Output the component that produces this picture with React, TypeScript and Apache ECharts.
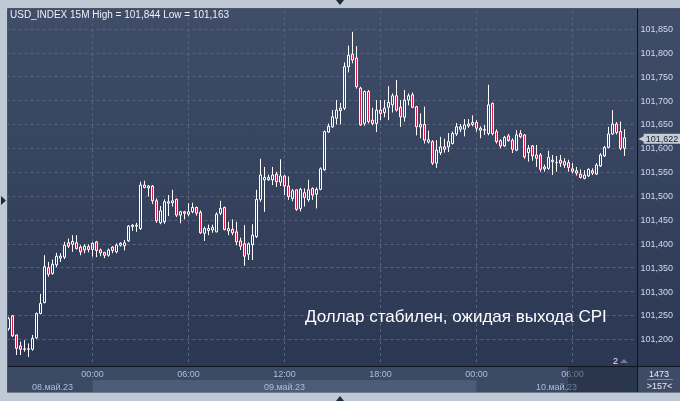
import React, { useEffect, useRef } from 'react';
import * as echarts from 'echarts';

const opens = [
  101.222, 101.249, 101.209, 101.186, 101.179, 101.179, 101.179, 101.203, 101.254, 101.277,
  101.350, 101.338, 101.356, 101.370, 101.372, 101.402, 101.399, 101.402, 101.393, 101.387,
  101.394, 101.388, 101.404, 101.387, 101.382, 101.376, 101.393, 101.383, 101.397, 101.396,
  101.406, 101.436, 101.437, 101.432, 101.523, 101.517, 101.521, 101.490, 101.444, 101.446,
  101.485, 101.486, 101.493, 101.460, 101.467, 101.462, 101.467, 101.476, 101.466, 101.422,
  101.428, 101.429, 101.425, 101.464, 101.476, 101.427, 101.430, 101.425, 101.406, 101.400,
  101.378, 101.398, 101.415, 101.493, 101.534, 101.534, 101.534, 101.546, 101.529, 101.542,
  101.521, 101.495, 101.513, 101.474, 101.507, 101.492, 101.516, 101.504, 101.514, 101.555,
  101.634, 101.645, 101.663, 101.679, 101.684, 101.771, 101.797, 101.789, 101.726, 101.652,
  101.719, 101.659, 101.652, 101.680, 101.675, 101.686, 101.691, 101.710, 101.686, 101.665,
  101.701, 101.712, 101.687, 101.645, 101.650, 101.613, 101.614, 101.569, 101.591, 101.603,
  101.603, 101.610, 101.630, 101.640, 101.640, 101.647, 101.650, 101.654, 101.638, 101.638,
  101.631, 101.694, 101.635, 101.616, 101.605, 101.626, 101.617, 101.596, 101.631, 101.628,
  101.591, 101.605, 101.586, 101.586, 101.557, 101.558, 101.572, 101.570, 101.575, 101.565,
  101.570, 101.557, 101.553, 101.546, 101.537, 101.542, 101.553, 101.546, 101.563, 101.584,
  101.602, 101.630, 101.651, 101.635, 101.600,
];
const closes = [
  101.243, 101.207, 101.181, 101.179, 101.180, 101.180, 101.202, 101.254, 101.275, 101.352,
  101.336, 101.357, 101.374, 101.374, 101.397, 101.395, 101.405, 101.390, 101.383, 101.395,
  101.388, 101.401, 101.386, 101.381, 101.376, 101.387, 101.386, 101.397, 101.401, 101.402,
  101.437, 101.439, 101.439, 101.523, 101.518, 101.521, 101.490, 101.448, 101.469, 101.488,
  101.488, 101.490, 101.460, 101.467, 101.464, 101.467, 101.476, 101.464, 101.423, 101.432,
  101.432, 101.434, 101.462, 101.474, 101.430, 101.432, 101.423, 101.404, 101.395, 101.374,
  101.400, 101.418, 101.493, 101.544, 101.539, 101.539, 101.544, 101.530, 101.542, 101.521,
  101.499, 101.511, 101.472, 101.514, 101.497, 101.513, 101.502, 101.514, 101.557, 101.635,
  101.646, 101.666, 101.680, 101.684, 101.771, 101.795, 101.785, 101.729, 101.649, 101.719,
  101.656, 101.652, 101.680, 101.673, 101.684, 101.696, 101.710, 101.680, 101.666, 101.701,
  101.710, 101.686, 101.645, 101.650, 101.617, 101.618, 101.569, 101.596, 101.603, 101.598,
  101.614, 101.631, 101.645, 101.645, 101.649, 101.651, 101.654, 101.642, 101.642, 101.639,
  101.691, 101.631, 101.614, 101.605, 101.623, 101.616, 101.598, 101.628, 101.624, 101.582,
  101.600, 101.584, 101.579, 101.556, 101.561, 101.581, 101.575, 101.570, 101.569, 101.572,
  101.560, 101.552, 101.548, 101.539, 101.544, 101.556, 101.548, 101.565, 101.586, 101.602,
  101.630, 101.651, 101.633, 101.600, 101.622,
];
const lows = [
  101.218, 101.205, 101.167, 101.167, 101.174, 101.163, 101.176, 101.201, 101.252, 101.275,
  101.331, 101.335, 101.351, 101.362, 101.368, 101.391, 101.383, 101.388, 101.376, 101.380,
  101.382, 101.373, 101.372, 101.374, 101.370, 101.373, 101.380, 101.380, 101.394, 101.386,
  101.404, 101.427, 101.425, 101.429, 101.516, 101.499, 101.483, 101.444, 101.441, 101.442,
  101.458, 101.478, 101.456, 101.443, 101.451, 101.458, 101.464, 101.459, 101.421, 101.406,
  101.418, 101.423, 101.424, 101.460, 101.428, 101.418, 101.418, 101.397, 101.387, 101.354,
  101.366, 101.366, 101.412, 101.488, 101.467, 101.532, 101.523, 101.519, 101.521, 101.502,
  101.492, 101.489, 101.469, 101.468, 101.478, 101.488, 101.492, 101.474, 101.512, 101.553,
  101.632, 101.643, 101.650, 101.650, 101.680, 101.759, 101.778, 101.725, 101.647, 101.647,
  101.652, 101.648, 101.634, 101.659, 101.665, 101.659, 101.675, 101.677, 101.645, 101.656,
  101.690, 101.684, 101.627, 101.621, 101.610, 101.610, 101.565, 101.559, 101.586, 101.591,
  101.592, 101.608, 101.626, 101.634, 101.625, 101.643, 101.646, 101.635, 101.621, 101.628,
  101.627, 101.627, 101.610, 101.600, 101.603, 101.614, 101.590, 101.594, 101.621, 101.578,
  101.572, 101.574, 101.561, 101.551, 101.551, 101.555, 101.544, 101.551, 101.561, 101.559,
  101.551, 101.548, 101.543, 101.537, 101.535, 101.540, 101.544, 101.544, 101.561, 101.582,
  101.600, 101.628, 101.629, 101.596, 101.584,
];
const highs = [
  101.247, 101.251, 101.210, 101.195, 101.198, 101.191, 101.209, 101.256, 101.295, 101.376,
  101.362, 101.367, 101.381, 101.380, 101.404, 101.411, 101.418, 101.418, 101.397, 101.399,
  101.399, 101.403, 101.406, 101.390, 101.383, 101.390, 101.395, 101.401, 101.403, 101.408,
  101.439, 101.441, 101.444, 101.530, 101.532, 101.523, 101.523, 101.495, 101.479, 101.493,
  101.502, 101.513, 101.495, 101.469, 101.469, 101.485, 101.486, 101.478, 101.470, 101.436,
  101.440, 101.440, 101.466, 101.490, 101.478, 101.446, 101.451, 101.446, 101.413, 101.439,
  101.403, 101.441, 101.513, 101.578, 101.561, 101.545, 101.561, 101.551, 101.577, 101.544,
  101.541, 101.515, 101.514, 101.517, 101.516, 101.534, 101.518, 101.518, 101.560, 101.637,
  101.652, 101.680, 101.701, 101.695, 101.780, 101.815, 101.844, 101.814, 101.729, 101.721,
  101.722, 101.685, 101.701, 101.701, 101.701, 101.730, 101.715, 101.743, 101.701, 101.722,
  101.715, 101.717, 101.689, 101.673, 101.687, 101.637, 101.617, 101.617, 101.624, 101.620,
  101.632, 101.635, 101.653, 101.651, 101.661, 101.661, 101.669, 101.659, 101.646, 101.649,
  101.733, 101.696, 101.640, 101.619, 101.626, 101.630, 101.621, 101.638, 101.638, 101.630,
  101.607, 101.607, 101.607, 101.590, 101.566, 101.595, 101.586, 101.584, 101.586, 101.579,
  101.576, 101.569, 101.561, 101.556, 101.554, 101.558, 101.558, 101.569, 101.590, 101.605,
  101.645, 101.680, 101.655, 101.656, 101.640,
];

// 15-minute slots shown on the chart (last two are empty room at the right)
const SLOT_COUNT = 157;
const START_UTC = Date.UTC(2023, 4, 8, 18, 45);
const pad = (n: number) => String(n).padStart(2, '0');
const categories: string[] = Array.from({ length: SLOT_COUNT }, (_, i) => {
  const d = new Date(START_UTC + i * 15 * 60000);
  return `${pad(d.getUTCDate())}.${pad(d.getUTCMonth() + 1)} ${pad(d.getUTCHours())}:${pad(d.getUTCMinutes())}`;
});

const timeTickIndex = [21, 45, 69, 93, 117, 141];
const dateLabelIndex = [11, 69, 137];
const dateLabels = ['08.май.23', '09.май.23', '10.май.23'];
const dayBand = [21, 117];
const Y_MIN = 101.15;
const Y_MAX = 101.9;
const Y_STEP = 0.05;
const symbolName = 'USD_INDEX 15M';
const noteText = 'Доллар стабилен, ожидая выхода CPI';
const barsTotal = '1473';
const barsVisible = '>157<';
const markerCount = '2';

const fmt = (v: number) => v.toFixed(3).replace('.', ',');
const FONT = '"Liberation Sans", Arial, sans-serif';
const OUTER = '#bfc9d6';

export default function App() {
  const ref = useRef<HTMLDivElement>(null);
  useEffect(() => {
    const chart = echarts.init(ref.current!, null, { renderer: 'svg' });
    const candles = opens.map((o, i) => [o, closes[i], lows[i], highs[i]]);
    const lastClose = closes[closes.length - 1];
    const hi = Math.max(...highs);
    const lo = Math.min(...lows);
    const header = `${symbolName} High = ${fmt(hi)} Low = ${fmt(lo)}`;

    const option: any = {
      animation: false,
      backgroundColor: 'transparent',
      grid: [
        { left: 6.5, width: 628, top: 5.08, height: 358.05, containLabel: false, outerBoundsMode: 'none' },
        { left: 8.5, width: 624, top: 367, height: 25, containLabel: false, outerBoundsMode: 'none' },
      ],
      xAxis: [
        {
          gridIndex: 0,
          type: 'category',
          data: categories,
          boundaryGap: true,
          axisLine: { show: false },
          axisTick: { show: false, alignWithLabel: true },
          axisLabel: { show: false },
          splitLine: {
            show: true,
            alignWithLabel: true,
            interval: (i: number) => timeTickIndex.includes(i),
            lineStyle: { color: '#56647f', width: 1, type: [3, 3] },
          },
        },
        {
          gridIndex: 1,
          type: 'category',
          data: categories,
          boundaryGap: false,
          position: 'top',
          z: 5,
          axisLine: { show: false },
          axisTick: { show: false },
          splitLine: { show: false },
          axisLabel: {
            inside: true,
            margin: 2,
            interval: (i: number) => timeTickIndex.includes(i),
            formatter: (v: string) => v.slice(-5),
            color: '#a9bfdf',
            fontSize: 9,
            fontFamily: FONT,
          },
        },
        {
          gridIndex: 1,
          type: 'category',
          data: categories,
          boundaryGap: false,
          position: 'bottom',
          z: 5,
          axisLine: { show: false },
          axisTick: { show: false },
          splitLine: { show: false },
          axisLabel: {
            inside: true,
            margin: 1,
            interval: (i: number) => dateLabelIndex.includes(i),
            formatter: (_v: string, i: number) => dateLabels[dateLabelIndex.indexOf(i)] ?? '',
            color: '#a9bfdf',
            fontSize: 9,
            fontFamily: FONT,
          },
        },
      ],
      yAxis: [
        {
          gridIndex: 0,
          type: 'value',
          position: 'right',
          min: Y_MIN,
          max: Y_MAX,
          interval: Y_STEP,
          scale: true,
          axisLine: { show: false },
          axisTick: { show: false },
          axisLabel: {
            margin: 6,
            color: '#cfdaec',
            fontSize: 9,
            fontFamily: FONT,
            formatter: (v: number) =>
              Math.abs(v - Y_MIN) < 1e-6 || Math.abs(v - Y_MAX) < 1e-6 ? '' : fmt(v),
          },
          splitLine: {
            show: true,
            showMinLine: false,
            showMaxLine: false,
            lineStyle: { color: '#56647f', width: 1, type: [3, 3] },
          },
        },
        { gridIndex: 1, type: 'value', min: 0, max: 1, show: false },
      ],
      series: [
        {
          type: 'candlestick',
          xAxisIndex: 0,
          yAxisIndex: 0,
          data: candles,
          barWidth: 2,
          itemStyle: {
            color: 'transparent',
            color0: '#d91d45',
            borderColor: '#ffffff',
            borderColor0: '#ffffff',
            borderColorDoji: '#ffffff',
            borderWidth: 1,
          },
          z: 3,
          markLine: {
            silent: true,
            symbol: ['none', 'none'],
            lineStyle: { color: 'transparent', width: 1, type: 'solid' },
            label: {
              show: true,
              position: 'end',
              distance: 4,
              formatter: () => `{a|◀}{b|${fmt(lastClose)}}`,
              rich: {
                a: { color: '#c5ccd6', fontSize: 8, fontFamily: 'DejaVu Sans', padding: [0, -1, 0, 0] },
                b: {
                  backgroundColor: '#c5ccd6',
                  color: '#18202e',
                  fontSize: 9,
                  fontFamily: FONT,
                  padding: [1, 2, 0, 2],
                },
              },
            },
            data: [{ yAxis: lastClose }],
          },
        },
        {
          type: 'line',
          xAxisIndex: 1,
          yAxisIndex: 1,
          data: [],
          z: 1,
          markArea: {
            silent: true,
            itemStyle: { color: '#4c5b76' },
            data: [[{ xAxis: categories[dayBand[0]], yAxis: 0 }, { xAxis: categories[dayBand[1]], yAxis: 0.48 }]],
          },
        },
      ],
      graphic: [
        { type: 'rect', z: -10, shape: { x: 0, y: 0, width: 680, height: 401 }, style: { fill: OUTER } },
        {
          type: 'rect',
          z: -10,
          shape: { x: 8, y: 9, width: 672, height: 357 },
          style: {
            fill: new echarts.graphic.LinearGradient(0, 0, 0, 1, [
              { offset: 0, color: '#3f4d69' },
              { offset: 1, color: '#2c3853' },
            ]),
          },
        },
        { type: 'rect', z: -10, shape: { x: 8, y: 367, width: 629, height: 25 }, style: { fill: '#3c4963' } },
        { type: 'rect', z: -10, shape: { x: 637, y: 367, width: 43, height: 25 }, style: { fill: '#3e4b64' } },
        // overlays
        { type: 'rect', z: 100, shape: { x: 0, y: 0, width: 7.5, height: 401 }, style: { fill: OUTER } },
        { type: 'rect', z: 100, shape: { x: 0, y: 0, width: 680, height: 8.5 }, style: { fill: OUTER } },
        { type: 'rect', z: 100, shape: { x: 0, y: 392.5, width: 680, height: 8.5 }, style: { fill: OUTER } },
        { type: 'rect', z: 100, shape: { x: 568, y: 367, width: 69, height: 25 }, style: { fill: 'rgba(20,28,44,0.42)' } },
        { type: 'line', z: 100, shape: { x1: 7.5, y1: 8.5, x2: 680, y2: 8.5 }, style: { stroke: '#4a5568', lineWidth: 1 } },
        { type: 'line', z: 100, shape: { x1: 7.5, y1: 8.5, x2: 7.5, y2: 392.5 }, style: { stroke: '#4a5568', lineWidth: 1 } },
        { type: 'line', z: 100, shape: { x1: 7.5, y1: 392.5, x2: 680, y2: 392.5 }, style: { stroke: '#6d7a8e', lineWidth: 1 } },
        { type: 'line', z: 100, shape: { x1: 637.5, y1: 9, x2: 637.5, y2: 392 }, style: { stroke: '#0f141d', lineWidth: 1 } },
        { type: 'line', z: 100, shape: { x1: 8, y1: 366.5, x2: 680, y2: 366.5 }, style: { stroke: '#0f141d', lineWidth: 1 } },
        { type: 'polygon', z: 100, shape: { points: [[336, 0], [344, 0], [340, 5]] }, style: { fill: '#1f2a3a' } },
        { type: 'polygon', z: 100, shape: { points: [[336, 401], [344, 401], [340, 396]] }, style: { fill: '#1f2a3a' } },
        { type: 'polygon', z: 100, shape: { points: [[1, 196], [1, 205], [6, 200.5]] }, style: { fill: '#1f2a3a' } },
        {
          type: 'text', z: 100, x: 10, y: 14.5,
          style: { text: header, fill: '#eef2f8', font: `10px ${FONT}`, verticalAlign: 'middle', align: 'left' },
        },
        {
          type: 'text', z: 100, x: 305, y: 316,
          style: { text: noteText, fill: '#ffffff', font: `17px ${FONT}`, verticalAlign: 'middle', align: 'left' },
        },
        {
          type: 'text', z: 100, x: 659, y: 373.5,
          style: { text: barsTotal, fill: '#e6ecf5', font: `9px ${FONT}`, verticalAlign: 'middle', align: 'center' },
        },
        { type: 'line', z: 100, shape: { x1: 647, y1: 379.5, x2: 673, y2: 379.5 }, style: { stroke: '#7e8aa0', lineWidth: 1 } },
        {
          type: 'text', z: 100, x: 659.5, y: 386,
          style: { text: barsVisible, fill: '#e6ecf5', font: `9px ${FONT}`, verticalAlign: 'middle', align: 'center' },
        },
        {
          type: 'text', z: 100, x: 615.5, y: 361,
          style: { text: markerCount, fill: '#e6ecf5', font: `9px ${FONT}`, verticalAlign: 'middle', align: 'center' },
        },
        { type: 'polygon', z: 100, shape: { points: [[620, 363], [628, 363], [624, 359]] }, style: { fill: '#6f7c92' } },
      ],
    };
    chart.setOption(option);
    return () => chart.dispose();
  }, []);
  return <div ref={ref} style={{ position: 'fixed', left: 0, top: 0, width: 680, height: 401 }} />;
}
